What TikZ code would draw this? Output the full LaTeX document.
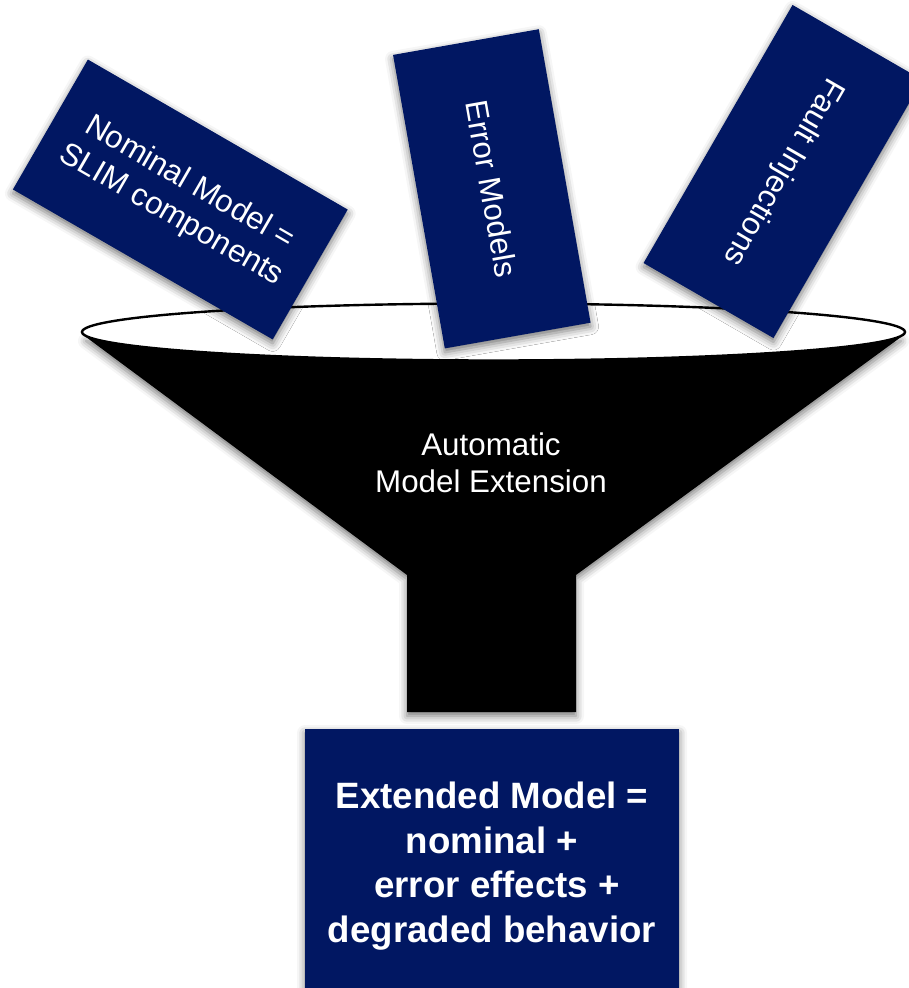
\documentclass[tikz,border=0pt]{standalone}
\usepackage{fontspec}
\setmainfont{Liberation Sans}
\usetikzlibrary{shadows.blur}
\definecolor{cardblue}{RGB}{1,23,98}
\begin{document}
\begin{tikzpicture}[x=0.75pt,y=-0.75pt,
  dropshade/.style={blur shadow={shadow xshift=0pt, shadow yshift=-3pt,
      shadow blur radius=6pt, shadow opacity=55}},
  card/.style={fill=cardblue, text=white, align=center, inner sep=0pt,
      font=\fontsize{23.5pt}{27.8pt}\selectfont, dropshade},
  label/.style={text=white, align=center, inner sep=0pt,
      font=\fontsize{23.5pt}{27.8pt}\selectfont}]
\useasboundingbox (0,0) rectangle (908,988);

% funnel cone and neck
\path[fill=black, dropshade]
  (86,337) -- (407,575) -- (407,712) -- (576,712) -- (576,575) -- (901,337) -- cycle;
% funnel rim
\draw[line width=1.8pt, fill=white] (493.5,332) ellipse [x radius=411.5, y radius=28.5];

% inputs dropping into the funnel
\node[card, rotate=-30, minimum width=225pt, minimum height=112.5pt]
  (nominal) at (180.3,199.5) {Nominal Model =\\SLIM components};
\node[card, rotate=-80, minimum width=223.5pt, minimum height=111pt]
  (error) at (491.8,188.8) {Error Models};
\node[card, rotate=-120, minimum width=223.5pt, minimum height=112.5pt]
  (fault) at (783,171.5) {Fault Injections};

% process label
\node[label] (ext) at (491,463) {Automatic\\Model Extension};

% result
\node[card, font=\bfseries\fontsize{27.5pt}{33.4pt}\selectfont,
  minimum width=280.5pt, minimum height=205.5pt]
  (result) at (492,866) {Extended Model =\\nominal +\\\hspace*{0.28em}error effects +\\degraded behavior};
\end{tikzpicture}
\end{document}
